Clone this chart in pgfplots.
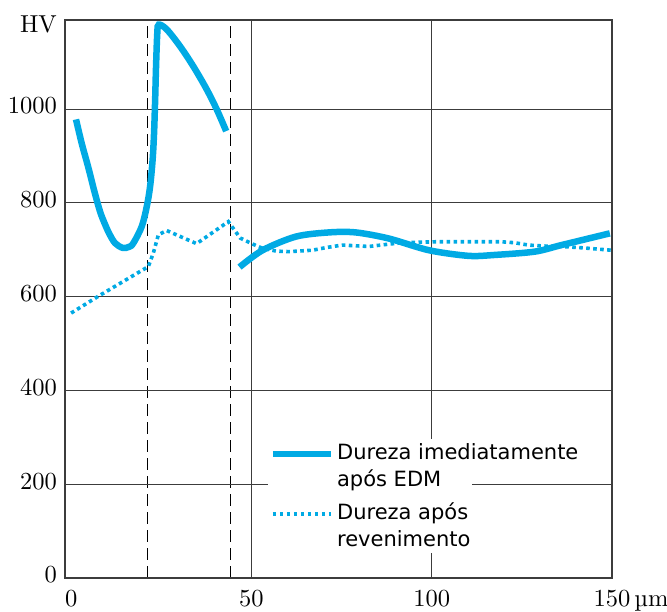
\documentclass[border=0pt]{standalone}
\usepackage{graphicx}
\usepackage{pgfplots}
\pgfplotsset{compat=1.18}
\usepackage{fontspec}
\newfontfamily\legfont{DejaVu Sans}
\definecolor{hvblue}{RGB}{0,170,228}
\definecolor{gridc}{RGB}{60,60,60}
\newcommand{\T}[1]{\scalebox{2.45}{\fontsize{10}{10}\selectfont #1}}

\begin{document}
\begin{tikzpicture}
\begin{axis}[
  name=ax,
  scale only axis,
  width=547pt, height=558pt,
  xmin=-1.7, xmax=150, ymin=0, ymax=1190,
  axis line style={gridc, line width=1.1pt},
  xtick={50,100},
  xticklabels={\T{50},\T{100}},
  extra x ticks={0,150},
  extra x tick labels={\T{0},\T{150\rlap{\,µm}}\hspace{10pt}},
  extra x tick style={grid=none},
  minor xtick={21.3,44.1},
  xminorgrids=true,
  minor x grid style={black, line width=0.9pt, dash pattern=on 12pt off 6pt},
  ytick={0,200,400,600,800,1000},
  yticklabels={\T{0},\T{200},\T{400},\T{600},\T{800},\T{1000}},
  ymajorgrids, xmajorgrids,
  major grid style={gridc, line width=1.1pt},
  major tick length=0pt, minor tick length=0pt,
  tick label style={inner sep=8pt},
  yticklabel style={yshift=3pt, xshift=0pt},
  xticklabel style={yshift=-4pt},
  legend cell align=left,
  legend style={at={(rel axis cs:0.37,0.25)}, anchor=north west,
    fill=white, draw=none, font=\legfont\fontsize{21}{27}\selectfont,
    row sep=9pt, inner sep=2pt, nodes={inner sep=3pt}, cells={align=left}},
  legend image code/.code={\draw[#1] (0pt,12pt) -- (58pt,12pt);},
]
\addplot[hvblue, line width=6.5pt, smooth, tension=0.55] coordinates {
(1.35,978) (3,925) (4.68,878) (6.4,826) (8.0,782) (9.3,756) (10.6,734) (12.2,714) (14.3,704) (16,706) (17.25,714)
(19.6,750) (21.0,793) (21.9,835) (22.6,892) (23.0,949) (23.3,1020) (23.55,1091)
(23.9,1163) (24.3,1180) (26.5,1170) (30.2,1134) (33.9,1091) (37.6,1042)
(40.4,999) (43.0,953)
};
\addlegendentry{Dureza imediatamente\\após EDM}
\addplot[hvblue, line width=3.6pt, dash pattern=on 3.6pt off 3.4pt] coordinates {
(0,565) (8,603) (21.4,664) (22.8,693) (24.2,732) (26.5,741) (34.8,713)
(43.6,760) (46.9,725) (50.4,712) (53.1,703) (57,697) (60.5,696) (66.9,699)
(71,705) (75.2,710) (82.6,707) (87,711) (91.8,715) (101,717) (110,717)
(119.4,717) (123,715) (126.8,710) (131,708) (136,707) (142,704) (149.8,699)
};
\addlegendentry{Dureza após\\revenimento}
\addplot[hvblue, line width=6.5pt, smooth, tension=0.5, forget plot] coordinates {
(46.7,663) (53.1,699) (62.3,728) (71.5,737) (78.9,737) (88.1,724) (99.2,699)
(110.2,687) (117.6,689) (128.6,696) (136,710) (149.4,735)
};
\end{axis}
\node[anchor=east, inner sep=8pt, yshift=-4pt] at (ax.north west) {\T{HV}};
\draw[gridc, line width=1.1pt] (ax.south west) ++(407pt,93.78pt) -- ++(140pt,0pt);
\pgfresetboundingbox
\path (ax.south west) ++(-65pt,-34pt) rectangle ++(667pt,612pt);
\end{tikzpicture}
\end{document}
